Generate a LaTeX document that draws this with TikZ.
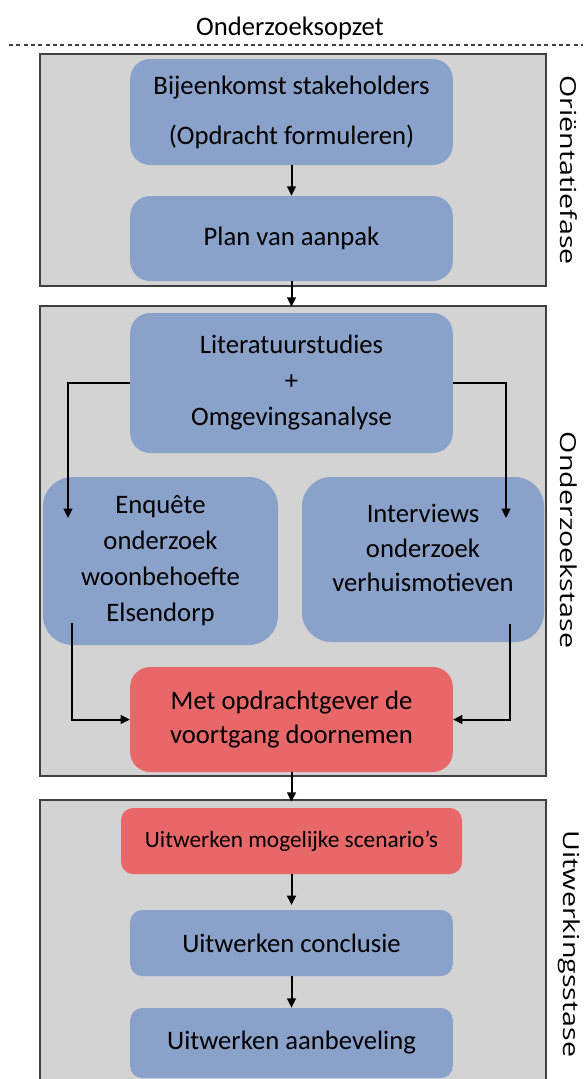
\documentclass[tikz,border=0pt]{standalone}
\usepackage{fontspec}
\usepackage{graphicx}
\setmainfont{Carlito}
\newfontfamily\sidefont{Open Sans}
\usetikzlibrary{arrows.meta}
\definecolor{StepBlue}{RGB}{138,162,202}
\definecolor{StepRed}{RGB}{232,104,106}
\definecolor{PhaseGray}{RGB}{211,211,211}
\definecolor{PhaseLine}{RGB}{64,64,64}

\begin{document}
\begin{tikzpicture}[
    x=0.75pt, y=-0.75pt,
    phase/.style={draw=PhaseLine, line width=1.1pt, fill=PhaseGray},
    stepbox/.style={fill=StepBlue, rounded corners=15pt, align=center, inner sep=0pt,
      minimum width=242pt, font=\fontsize{20}{27}\selectfont},
    redbox/.style={stepbox, fill=StepRed},
    fase/.style={rotate=-90, inner sep=0pt, font=\sidefont\fontsize{16.5}{20}\selectfont},
    arr/.style={-{Triangle[length=7pt, width=6.5pt]}, line width=1.5pt}
  ]
    \clip (0,0) rectangle (583,1079);
    % fases
    \draw[phase] (40,54) rectangle (546,286);
    \draw[phase] (40,306) rectangle (546,776);
    \draw[phase] (40,800) rectangle (546,1100);
    \node (title) at (290,28) {\fontsize{20}{24}\selectfont Onderzoeksopzet};
    \draw[PhaseLine, line width=0.9pt, dash pattern=on 3pt off 2.5pt] (9,45) -- (583,45);
    \node[fase] (fase1) at (569,170) {\scalebox{1.3}[1]{Oriëntatiefase}};
    \node[fase] (fase2) at (569,540) {\scalebox{1.3}[1]{Onderzoekstase}};
    \node[fase] (fase3) at (569,944) {\scalebox{1.3}[1]{Uitwerkingsstase}};
    % stappen
    \node[stepbox, minimum height=79.5pt, font=\fontsize{20}{37.5}\selectfont] (meet) at (291.5,112)
      {Bijeenkomst stakeholders\\(Opdracht formuleren)};
    \node[stepbox, minimum height=63.75pt] (plan) at (291.5,238.5) {Plan van aanpak};
    \node[stepbox, minimum height=105pt] (lit) at (291.5,383)
      {Literatuurstudies\\+\\Omgevingsanalyse};
    \node[stepbox, minimum width=176.25pt, minimum height=126pt, rounded corners=22pt] (enq) at (160.5,561)
      {Enquête\\onderzoek\\woonbehoefte\\Elsendorp};
    \node[stepbox, minimum width=181.5pt, minimum height=123.75pt, rounded corners=22pt,
      font=\fontsize{20}{26}\selectfont] (int) at (423,559.5)
      {\begin{tabular}{@{}c@{}}Interviews\\onderzoek\\verhuismotieven\\[14pt]\end{tabular}};
    \node[redbox, minimum height=78.75pt, font=\fontsize{20}{26}\selectfont] (red) at (291.5,719.5)
      {Met opdrachtgever de\\voortgang doornemen};
    \node[redbox, minimum width=255.75pt, minimum height=49.5pt, rounded corners=9pt,
      font=\fontsize{17.5}{21}\selectfont] (scen) at (291.5,841) {Uitwerken mogelijke scenario’s};
    \node[stepbox, minimum height=49.5pt, rounded corners=9pt] (concl) at (291.5,943) {Uitwerken conclusie};
    \node[stepbox, minimum height=52.5pt, rounded corners=9pt] (aanb) at (291.5,1043) {Uitwerken aanbeveling};
    % pijlen
    \coordinate (enqin) at (68,518);
    \coordinate (intin) at (506,518);
    \coordinate (enqout) at (72,623);
    \coordinate (intout) at (510,624);
    \draw[arr] (meet) -- (plan);
    \draw[arr, shorten >=4.5pt] (plan) -- (lit);
    \draw[arr] (lit.west) -| (enqin);
    \draw[arr] (lit.east) -| (intin);
    \draw[arr] (enqout) |- (red.west);
    \draw[arr] (intout) |- (red.east);
    \draw[arr, shorten >=4.5pt] (red) -- (scen);
    \draw[arr, shorten >=3.5pt] (scen) -- (concl);
    \draw[arr] (concl) -- (aanb);
\end{tikzpicture}
\end{document}
